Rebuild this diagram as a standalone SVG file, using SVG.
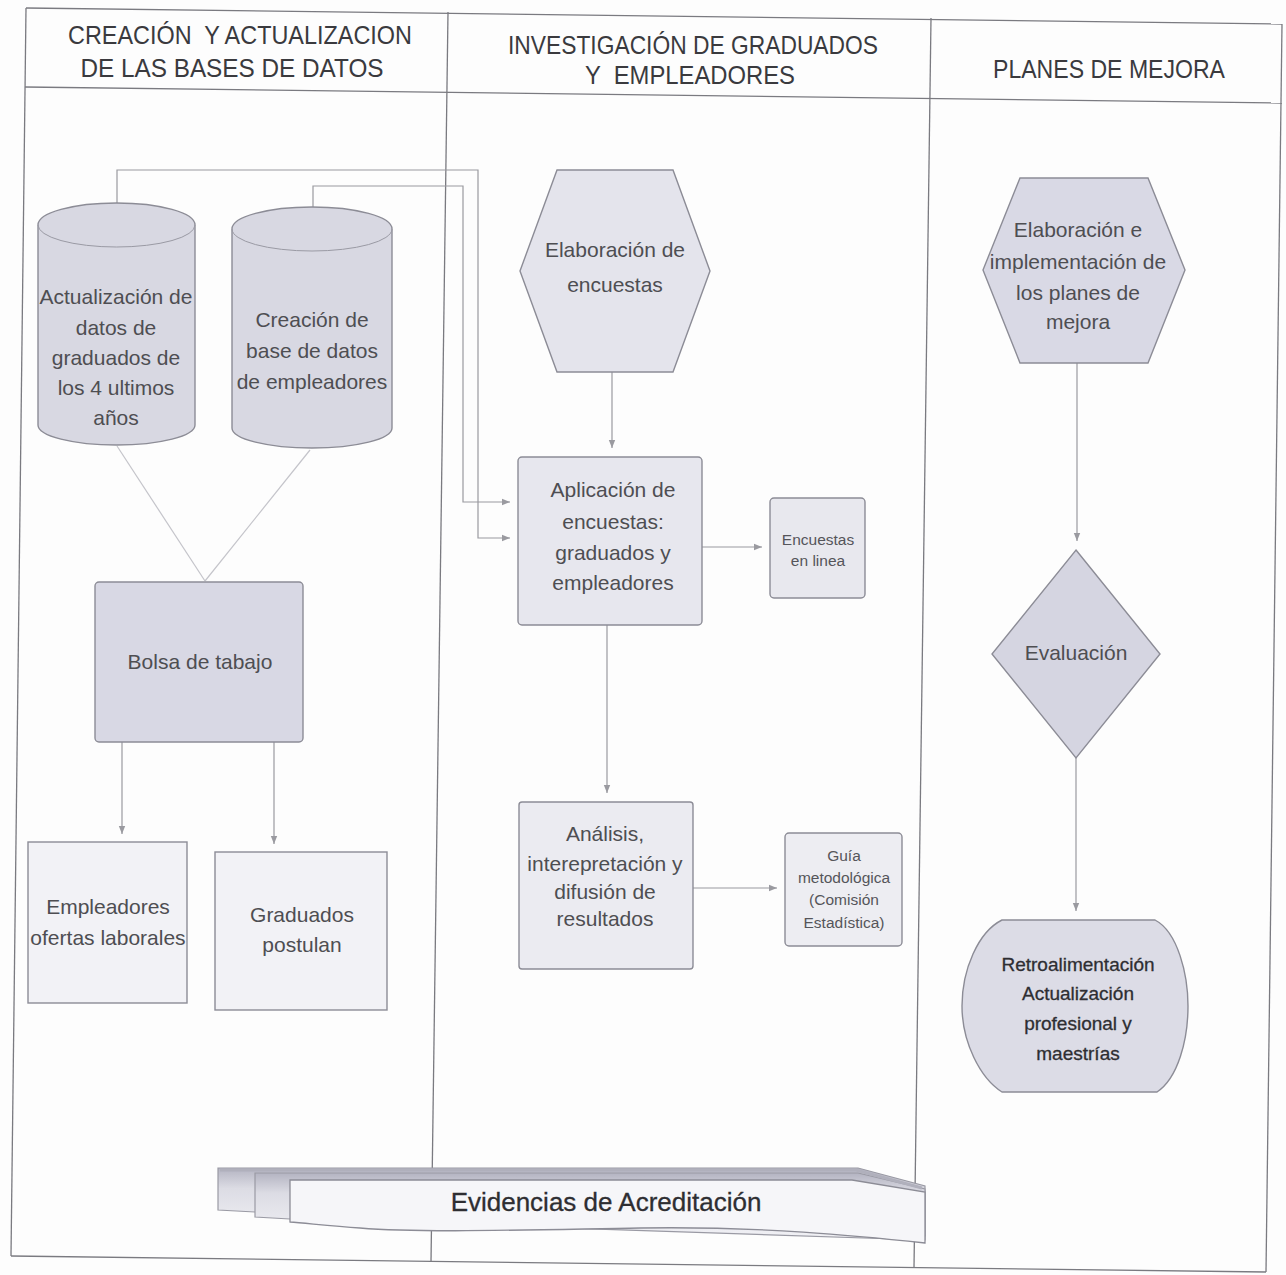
<svg xmlns="http://www.w3.org/2000/svg" width="1286" height="1275" viewBox="0 0 1286 1275">
<style>
  .frame{fill:none;stroke:#7a7a80;stroke-width:1.3}
  .node{stroke:#8c8c96;stroke-width:1.4}
  .t{font-family:"Liberation Sans",Arial,sans-serif;font-size:21px;fill:#4e4e52;text-anchor:middle}
  .ts{font-family:"Liberation Sans",Arial,sans-serif;font-size:15.5px;fill:#55555a;text-anchor:middle}
  .hd{font-family:"Liberation Sans Narrow","Liberation Sans",Arial,sans-serif;font-size:26px;fill:#3a3a3e;text-anchor:middle}
  .dk{fill:#2e2e32;stroke:#2e2e32;stroke-width:0.3}
  .retro{font-size:19px}
  .evid{font-size:26px}
  .conn path{fill:none;stroke:#9a9aa0;stroke-width:1.2}
  .conn .faint{stroke:#c4c4ca}
</style>
<defs>
  <marker id="arr" viewBox="0 0 10 10" refX="10" refY="5" markerWidth="8" markerHeight="8" markerUnits="userSpaceOnUse" orient="auto">
    <path d="M0,1 L10,5 L0,9 Z" fill="#9a9aa0"/>
  </marker>
  <linearGradient id="pageTop" x1="0" y1="0" x2="0" y2="1">
    <stop offset="0" stop-color="#b4b4c2"/>
    <stop offset="0.3" stop-color="#dcdce4"/>
    <stop offset="1" stop-color="#f2f2f6"/>
  </linearGradient>
</defs>
<rect x="0" y="0" width="1286" height="1275" fill="#fdfdfd"/>

<g id="table">
  <line class="frame" x1="26" y1="8" x2="1282" y2="24"/>
  <line class="frame" x1="25" y1="87" x2="1282" y2="103"/>
  <line class="frame" x1="26" y1="8" x2="11" y2="1256"/>
  <line class="frame" x1="1282" y1="24" x2="1266" y2="1272"/>
  <line class="frame" x1="448" y1="12" x2="431" y2="1262"/>
  <line class="frame" x1="931" y1="18" x2="914" y2="1268"/>
  <line class="frame" x1="11" y1="1256" x2="1266" y2="1272"/>
</g>

<g id="headers">
  <text class="hd" x="240" y="44" textLength="344" lengthAdjust="spacingAndGlyphs" xml:space="preserve">CREACIÓN  Y ACTUALIZACION</text>
  <text class="hd" x="232" y="77" textLength="303" lengthAdjust="spacingAndGlyphs">DE LAS BASES DE DATOS</text>
  <text class="hd" x="693" y="54" textLength="370" lengthAdjust="spacingAndGlyphs">INVESTIGACIÓN DE GRADUADOS</text>
  <text class="hd" x="690" y="84" textLength="210" lengthAdjust="spacingAndGlyphs" xml:space="preserve">Y  EMPLEADORES</text>
  <text class="hd" x="1109" y="78" textLength="232" lengthAdjust="spacingAndGlyphs">PLANES DE MEJORA</text>
</g>

<g id="connectors" class="conn">
  <path d="M117,203 V170 H478 V538 H510" marker-end="url(#arr)"/>
  <path d="M313,207 V186 H463 V502 H510" marker-end="url(#arr)"/>
  <path d="M612,372 V448" marker-end="url(#arr)"/>
  <path d="M702,547 H762" marker-end="url(#arr)"/>
  <path d="M607,625 V793" marker-end="url(#arr)"/>
  <path d="M693,888 H777" marker-end="url(#arr)"/>
  <path class="faint" d="M117,446 L205,581"/>
  <path class="faint" d="M310,450 L205,581"/>
  <path d="M122,742 V834" marker-end="url(#arr)"/>
  <path d="M274,742 V844" marker-end="url(#arr)"/>
  <path d="M1077,363 V541" marker-end="url(#arr)"/>
  <path d="M1076,758 V911" marker-end="url(#arr)"/>
</g>

<g id="cyl-graduados">
  <path class="node" fill="#d8d8e2" d="M38,225 A78.5,22 0 0 1 195,225 V425 A78.5,20 0 0 1 38,425 Z"/>
  <path fill="none" stroke="#9a9aa4" stroke-width="1" d="M38,225 A78.5,22 0 0 0 195,225"/>
  <text class="t"><tspan x="116" y="304">Actualización de</tspan><tspan x="116" y="335">datos de</tspan><tspan x="116" y="365">graduados  de</tspan><tspan x="116" y="395">los  4 ultimos</tspan><tspan x="116" y="425">años</tspan></text>
</g>

<g id="cyl-empleadores">
  <path class="node" fill="#d8d8e2" d="M232,229 A80,22 0 0 1 392,229 V428 A80,20 0 0 1 232,428 Z"/>
  <path fill="none" stroke="#9a9aa4" stroke-width="1" d="M232,229 A80,22 0 0 0 392,229"/>
  <text class="t"><tspan x="312" y="327">Creación de</tspan><tspan x="312" y="358">base de datos</tspan><tspan x="312" y="389">de empleadores</tspan></text>
</g>

<g id="bolsa">
  <rect class="node" fill="#d8d8e4" x="95" y="582" width="208" height="160" rx="4"/>
  <text class="t" x="200" y="669">Bolsa de tabajo</text>
</g>

<g id="empleadores-ofertas">
  <rect class="node" fill="#f2f2f6" x="28" y="842" width="159" height="161"/>
  <text class="t"><tspan x="108" y="914">Empleadores</tspan><tspan x="108" y="945">ofertas laborales</tspan></text>
</g>

<g id="graduados-postulan">
  <rect class="node" fill="#f2f2f6" x="215" y="852" width="172" height="158"/>
  <text class="t"><tspan x="302" y="922">Graduados</tspan><tspan x="302" y="952">postulan</tspan></text>
</g>

<g id="elaboracion-encuestas">
  <polygon class="node" fill="#e4e4ec" points="557,170 673,170 710,271 673,372 557,372 520,271"/>
  <text class="t"><tspan x="615" y="257">Elaboración  de</tspan><tspan x="615" y="292">encuestas</tspan></text>
</g>

<g id="aplicacion">
  <rect class="node" fill="#e7e7ee" x="518" y="457" width="184" height="168" rx="4"/>
  <text class="t"><tspan x="613" y="497">Aplicación de</tspan><tspan x="613" y="529">encuestas:</tspan><tspan x="613" y="560">graduados y</tspan><tspan x="613" y="590">empleadores</tspan></text>
</g>

<g id="encuestas-linea">
  <rect class="node" fill="#e8e8ee" x="770" y="498" width="95" height="100" rx="4"/>
  <text class="ts"><tspan x="818" y="545">Encuestas</tspan><tspan x="818" y="566">en linea</tspan></text>
</g>

<g id="analisis">
  <rect class="node" fill="#ebebf1" x="519" y="802" width="174" height="167" rx="3"/>
  <text class="t"><tspan x="605" y="841">Análisis,</tspan><tspan x="605" y="871">interepretación y</tspan><tspan x="605" y="899">difusión de</tspan><tspan x="605" y="926">resultados</tspan></text>
</g>

<g id="guia">
  <rect class="node" fill="#ededf2" x="785" y="833" width="117" height="113" rx="4"/>
  <text class="ts"><tspan x="844" y="861">Guía</tspan><tspan x="844" y="883">metodológica</tspan><tspan x="844" y="905">(Comisión</tspan><tspan x="844" y="928">Estadística)</tspan></text>
</g>

<g id="planes-mejora">
  <polygon class="node" fill="#d9d9e5" points="1020,178 1148,178 1185,270 1148,363 1020,363 983,270"/>
  <text class="t"><tspan x="1078" y="237">Elaboración e</tspan><tspan x="1078" y="269">implementación de</tspan><tspan x="1078" y="300">los planes  de</tspan><tspan x="1078" y="329">mejora</tspan></text>
</g>

<g id="evaluacion">
  <polygon class="node" fill="#d5d5e1" points="1076,550 1160,654 1076,758 992,654"/>
  <text class="t" x="1076" y="660">Evaluación</text>
</g>

<g id="retroalimentacion">
  <path class="node" fill="#dcdce6" d="M1002,920 L1155,920 C1178,932 1188,975 1188,1006 C1188,1040 1178,1078 1157,1092 L1002,1092 C980,1078 962,1042 962,1006 C962,970 978,932 1002,920 Z"/>
  <text class="t dk retro"><tspan x="1078" y="971">Retroalimentación</tspan><tspan x="1078" y="1000">Actualización</tspan><tspan x="1078" y="1030">profesional y</tspan><tspan x="1078" y="1060">maestrías</tspan></text>
</g>

<g id="evidencias">
  <path fill="url(#pageTop)" stroke="#9a9aa4" stroke-width="1.2" d="M218,1168 H858 L925,1186 V1236 L255,1212 L218,1210 Z"/>
  <path fill="url(#pageTop)" stroke="#9a9aa4" stroke-width="1.2" d="M255,1173 H858 L925,1189 V1240 L290,1219 L255,1217 Z"/>
  <path fill="#f6f6f9" stroke="#8c8c96" stroke-width="1.3" d="M290,1180 H852 L925,1192 V1243 C860,1236 760,1226 640,1228 C520,1230 420,1233 360,1228 C330,1226 305,1223 290,1222 Z"/>
  <path fill="none" stroke="#b0b0bc" stroke-width="3" d="M220,1170 H856 L922,1188"/>
  <text class="t dk evid" x="606" y="1211">Evidencias de Acreditación</text>
</g>
</svg>
